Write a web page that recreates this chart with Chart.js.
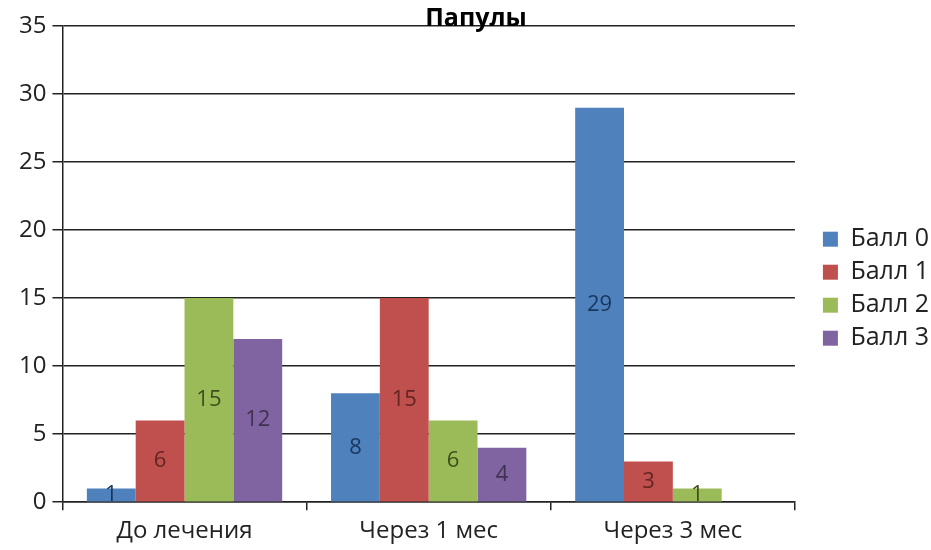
<!DOCTYPE html>
<html>
<head>
<meta charset="utf-8">
<script src="https://cdn.jsdelivr.net/npm/chart.js@4/dist/chart.umd.min.js"></script>
<style>
  html, body { margin: 0; padding: 0; background: #fff; }
  #wrap { width: 931px; height: 550px; }
</style>
</head>
<body>
<div id="wrap"><canvas id="chart"></canvas></div>
<script>
// ── data ──────────────────────────────────────────────
const categories = ['До лечения', 'Через 1 мес', 'Через 3 мес'];
const seriesNames = ['Балл 0', 'Балл 1', 'Балл 2', 'Балл 3'];
const ball0 = [1, 8, 29];
const ball1 = [6, 15, 3];
const ball2 = [15, 6, 1];
const ball3 = [12, 4, 0];
const yTicks = [0, 5, 10, 15, 20, 25, 30, 35];

const fills = ['#4F81BD', '#C0504D', '#9BBB59', '#8064A2'];
const labelColors = ['#17375E', '#632523', '#3E4F1A', '#3F3151'];
const FONT = "'Open Sans', sans-serif";

// value labels in the middle of each bar
const barLabels = {
    id: 'barLabels',
    afterDatasetsDraw(chart) {
        const ctx = chart.ctx;
        ctx.save();
        ctx.font = `22px ${FONT}`;
        ctx.textAlign = 'center';
        ctx.textBaseline = 'middle';
        chart.data.datasets.forEach((ds, i) => {
            chart.getDatasetMeta(i).data.forEach((bar, j) => {
                const v = ds.data[j];
                if (!v) return;
                ctx.fillStyle = labelColors[i];
                ctx.fillText(String(v), bar.x, (bar.y + bar.base) / 2);
            });
        });
        ctx.restore();
    }
};

const ctx = document.getElementById('chart').getContext('2d');
new Chart(ctx, {
    type: 'bar',
    data: {
        labels: categories,
        datasets: [ball0, ball1, ball2, ball3].map((d, i) => ({
            label: seriesNames[i], data: d, backgroundColor: fills[i],
            borderWidth: 0, categoryPercentage: 0.8, barPercentage: 1, yAxisID: 'y'
        }))
    },
    options: {
        responsive: true, maintainAspectRatio: false, animation: false,
        layout: { padding: { left: 13, right: -8, top: 0, bottom: -3 } },
        plugins: {
            title: { display: true, text: 'Папулы', color: '#000', font: { family: FONT, size: 25, weight: 'bold' }, padding: { top: 4, bottom: -8 } },
            legend: {
                position: 'right',
                title: { display: true, text: '', padding: { top: 5, bottom: 5 } },
                labels: { color: '#222', boxWidth: 15, boxHeight: 15, padding: 8, font: { family: FONT, size: 25 } }
            },
            tooltip: { enabled: false }
        },
        scales: {
            x: {
                grid: { offset: true, drawOnChartArea: false, drawTicks: true, tickLength: 8, color: '#222', lineWidth: 1.5 },
                border: { color: '#222', width: 1.5 },
                ticks: { color: '#222', padding: 7, font: { family: FONT, size: 24 } }
            },
            y: {
                min: 0, max: 35,
                afterBuildTicks: axis => { axis.ticks = yTicks.map(v => ({ value: v })); },
                grid: { color: '#222', lineWidth: 1.5, tickLength: 10 },
                border: { color: '#222', width: 1.5 },
                ticks: { color: '#222', padding: 6, font: { family: FONT, size: 24 } }
            },
            // empty spacer between plot and legend
            gap: {
                type: 'linear', position: 'right', display: true,
                grid: { display: false }, border: { display: false }, ticks: { display: false },
                afterFit: s => { s.width = 20; }
            }
        }
    },
    plugins: [barLabels]
});
</script>
</body>
</html>
